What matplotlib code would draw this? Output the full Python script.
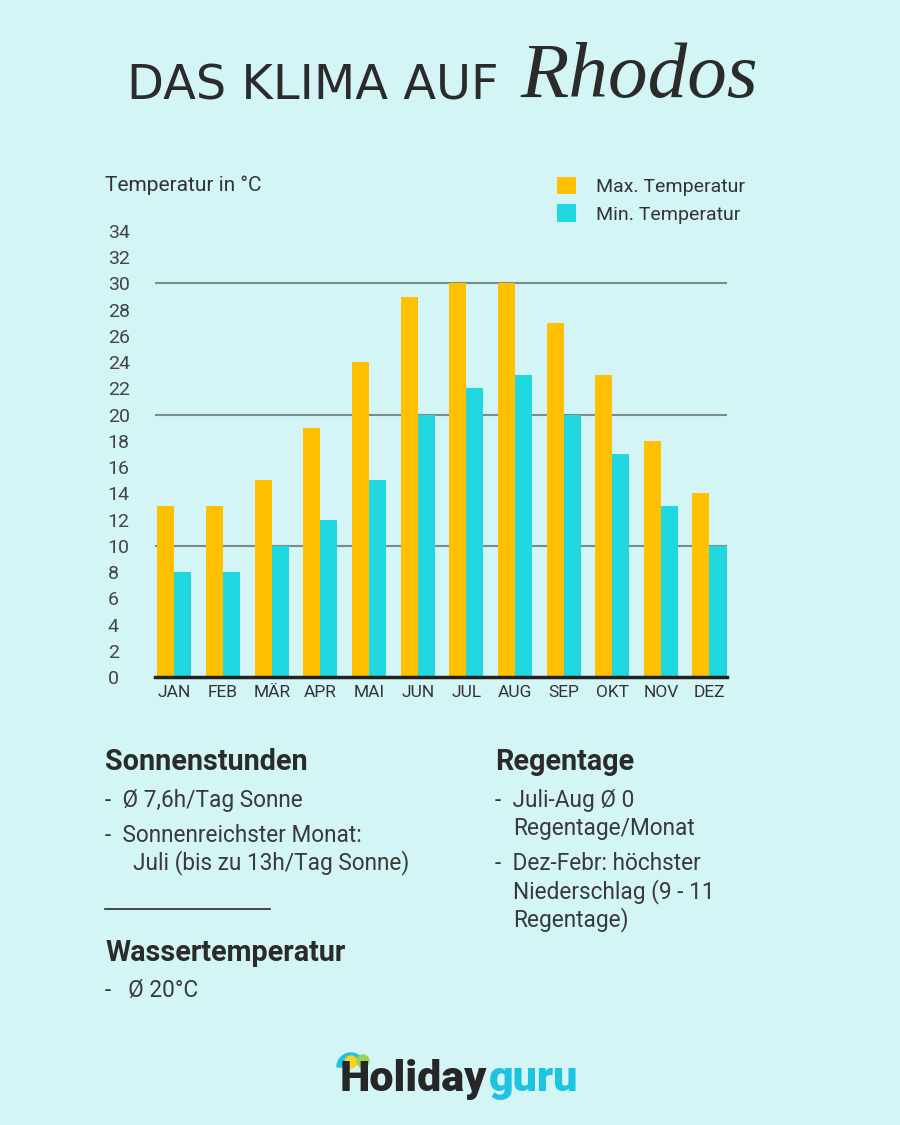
import matplotlib.pyplot as plt
from matplotlib.patches import Circle, Wedge
import numpy as np

# data
months = ['JAN', 'FEB', 'MÄR', 'APR', 'MAI', 'JUN', 'JUL', 'AUG', 'SEP', 'OKT', 'NOV', 'DEZ']
max_temp = [13, 13, 15, 19, 24, 29, 30, 30, 27, 23, 18, 14]
min_temp = [8, 8, 10, 12, 15, 20, 22, 23, 20, 17, 13, 10]
y_ticks = list(range(0, 35, 2))
grid_levels = [10, 20, 30]

BG = '#d3f5f5'
ORANGE = '#ffc000'
CYAN = '#22d8e0'
DARK = '#2b2b2b'
TEXT = '#3a3a3a'

plt.rcParams['font.family'] = ['Roboto', 'DejaVu Sans']

fig = plt.figure(figsize=(9, 11.25), dpi=100, facecolor=BG)

# chart area
ax = fig.add_axes([155 / 900, 1 - 677 / 1125, (727 - 155) / 900, (677 - 231) / 1125])
ax.set_facecolor('none')
x = np.arange(len(months))
w = 0.35
ax.bar(x - w / 2, max_temp, w, color=ORANGE, label='Max. Temperatur', zorder=3)
ax.bar(x + w / 2, min_temp, w, color=CYAN, label='Min. Temperatur', zorder=3)
for g in grid_levels:
    ax.axhline(g, color='#7d8b8b', lw=1.5, zorder=1)
ax.set_ylim(0, 34)
ax.set_xlim(-0.4, 11.36)
ax.set_yticks(y_ticks)
ax.set_yticklabels([str(t) for t in y_ticks], ha='left')
ax.set_xticks(x)
ax.set_xticklabels(months)
ax.tick_params(axis='y', length=0, pad=34, labelsize=14, labelcolor='#444444')
ax.tick_params(axis='x', length=0, pad=6, labelsize=12.5, labelcolor='#333333')
for s in ['top', 'right', 'left']:
    ax.spines[s].set_visible(False)
ax.spines['bottom'].set_color('#222222')
ax.spines['bottom'].set_linewidth(2.5)
ax.spines['bottom'].set_zorder(4)

fig.legend(loc='upper left', bbox_to_anchor=(557 / 900, 1 - 177 / 1125), frameon=False,
           fontsize=14, handlelength=1.0, handleheight=1.0, handletextpad=1.0,
           labelspacing=0.4, borderpad=0, borderaxespad=0, labelcolor='#333333')

fig.text(105 / 900, 1 - 185 / 1125, 'Temperatur in °C', fontsize=15, color='#333333',
         va='center')

# title
fig.text(127 / 900, 1 - 86 / 1125, 'DAS KLIMA AUF', fontsize=34.5, color=DARK,
         va='center', family='DejaVu Sans')
fig.text(520 / 900, 1 - 78 / 1125, 'Rhodos', fontsize=57, color=DARK, va='center',
         family='Liberation Serif', style='italic')


# info blocks
def t(px, py, s, **kw):
    kw.setdefault('fontsize', 16.3)
    kw.setdefault('color', TEXT)
    return fig.text(px / 900, 1 - py / 1125, s, va='center', **kw)


t(105, 762, 'Sonnenstunden', fontsize=20.7, fontweight='bold', color=DARK)
t(105, 800, '-  Ø 7,6h/Tag Sonne')
t(105, 835, '-  Sonnenreichster Monat:')
t(133, 863, 'Juli (bis zu 13h/Tag Sonne)')
fig.add_artist(plt.Line2D([105 / 900, 270 / 900], [1 - 909 / 1125] * 2, color=DARK, lw=1.2))
t(105, 953, 'Wassertemperatur', fontsize=20.7, fontweight='bold', color=DARK)
t(105, 990, '-   Ø 20°C')

t(495, 762, 'Regentage', fontsize=20.7, fontweight='bold', color=DARK)
t(495, 800, '-  Juli-Aug Ø 0')
t(513, 828, 'Regentage/Monat')
t(495, 864, '-  Dez-Febr: höchster')
t(513, 892, 'Niederschlag (9 - 11')
t(513, 920, 'Regentage)')

# logo
h = t(340, 1080, 'Holiday', fontsize=31, fontweight='black', color='#262626')
fig.canvas.draw()
bb = h.get_window_extent()
t(bb.x1 + 1, 1080, 'guru', fontsize=31, fontweight='black', color='#1ec3e0')
logo = fig.add_axes([336 / 900, 1 - 1071 / 1125, 34 / 900, 26 / 1125])
logo.set_xlim(0, 34)
logo.set_ylim(0, 26)
logo.set_aspect('equal')
logo.axis('off')
logo.add_patch(Wedge((15, 4), 14, 0, 180, width=5, color='#1ec3e0'))
logo.add_patch(Circle((15, 9), 6, color='#ffd21f'))
logo.add_patch(Circle((27, 10), 6, color='#9bd35a'))

fig.savefig('out.png', dpi=100, facecolor=BG)
